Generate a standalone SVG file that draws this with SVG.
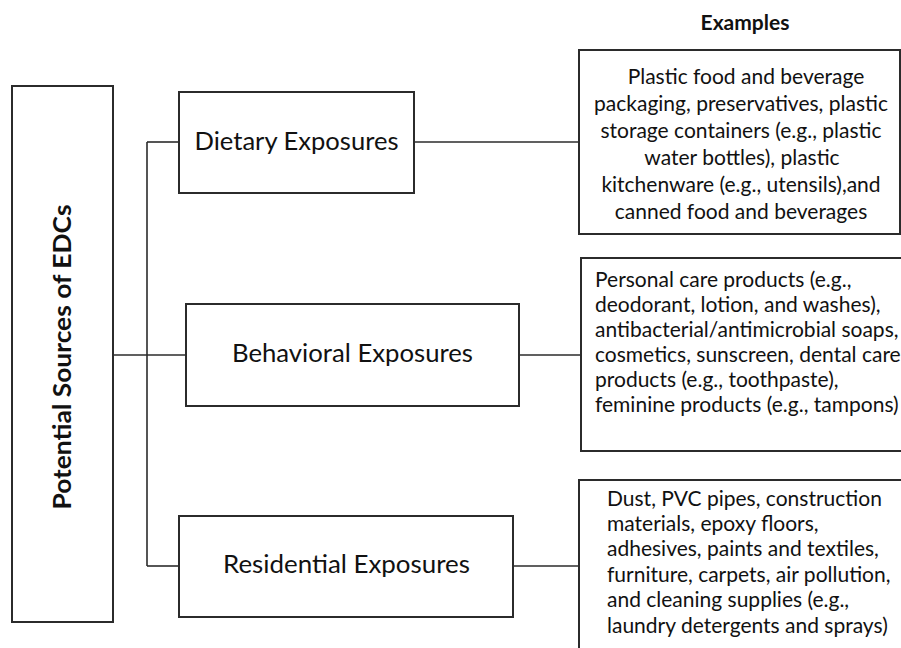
<svg xmlns="http://www.w3.org/2000/svg" width="901" height="648" viewBox="0 0 901 648">
<style>
.box{fill:#fff;stroke:#2b2b2b;stroke-width:2}
.ln{stroke:#2b2b2b;stroke-width:1.6;fill:none}
.lbl{font-family:Lato,"Liberation Sans",sans-serif;font-size:25px;fill:#111;text-anchor:middle}
.ex{font-family:Lato,"Liberation Sans",sans-serif;font-size:21px;fill:#111}
.exc{text-anchor:middle}
.b{font-weight:bold}
</style>
<rect width="901" height="648" fill="#fff"/>
<g id="connectors">
<line class="ln" x1="147" y1="142" x2="147" y2="566"/>
<line class="ln" x1="147" y1="142" x2="179" y2="142"/>
<line class="ln" x1="113" y1="355" x2="186" y2="355"/>
<line class="ln" x1="147" y1="566" x2="179" y2="566"/>
<line class="ln" x1="414" y1="142" x2="579" y2="142"/>
<line class="ln" x1="519" y1="355" x2="581" y2="355"/>
<line class="ln" x1="513" y1="566" x2="579" y2="566"/>
</g>
<g id="root">
<rect class="box" x="12" y="86" width="101" height="536"/>
<text class="lbl b" transform="translate(71,357) rotate(-90)" font-size="25" textLength="305" lengthAdjust="spacingAndGlyphs">Potential Sources of EDCs</text>
</g>
<g id="dietary">
<rect class="box" x="179" y="92" width="235" height="101"/>
<text class="lbl" x="296.5" y="150" textLength="204" lengthAdjust="spacingAndGlyphs">Dietary Exposures</text>
</g>
<g id="behavioral">
<rect class="box" x="186" y="304" width="333" height="102"/>
<text class="lbl" x="352.5" y="362" textLength="241" lengthAdjust="spacingAndGlyphs">Behavioral Exposures</text>
</g>
<g id="residential">
<rect class="box" x="179" y="516" width="334" height="101"/>
<text class="lbl" x="346.5" y="573" textLength="247" lengthAdjust="spacingAndGlyphs">Residential Exposures</text>
</g>
<g id="examples-title">
<text class="ex exc b" x="745" y="30" font-size="21">Examples</text>
</g>
<g id="ex-dietary">
<rect class="box" x="579" y="50" width="321" height="184"/>
<text class="ex exc" x="746" y="84">Plastic food and beverage</text>
<text class="ex exc" x="741" y="111">packaging, preservatives, plastic</text>
<text class="ex exc" x="741" y="138">storage containers (e.g., plastic</text>
<text class="ex exc" x="742" y="165">water bottles), plastic</text>
<text class="ex exc" x="741" y="192">kitchenware (e.g., utensils),and</text>
<text class="ex exc" x="741" y="219">canned food and beverages</text>
</g>
<g id="ex-behavioral">
<rect class="box" x="581" y="258" width="322" height="193"/>
<text class="ex" x="595" y="287">Personal care products (e.g.,</text>
<text class="ex" x="595" y="312">deodorant, lotion, and washes),</text>
<text class="ex" x="595" y="337">antibacterial/antimicrobial soaps,</text>
<text class="ex" x="595" y="362">cosmetics, sunscreen, dental care</text>
<text class="ex" x="595" y="387">products (e.g., toothpaste),</text>
<text class="ex" x="595" y="412">feminine products (e.g., tampons)</text>
</g>
<g id="ex-residential">
<rect class="box" x="579" y="480" width="324" height="180"/>
<text class="ex" x="607" y="506">Dust, PVC pipes, construction</text>
<text class="ex" x="607" y="531">materials, epoxy floors,</text>
<text class="ex" x="607" y="556">adhesives, paints and textiles,</text>
<text class="ex" x="607" y="582">furniture, carpets, air pollution,</text>
<text class="ex" x="607" y="607">and cleaning supplies (e.g.,</text>
<text class="ex" x="607" y="633">laundry detergents and sprays)</text>
</g>
</svg>
